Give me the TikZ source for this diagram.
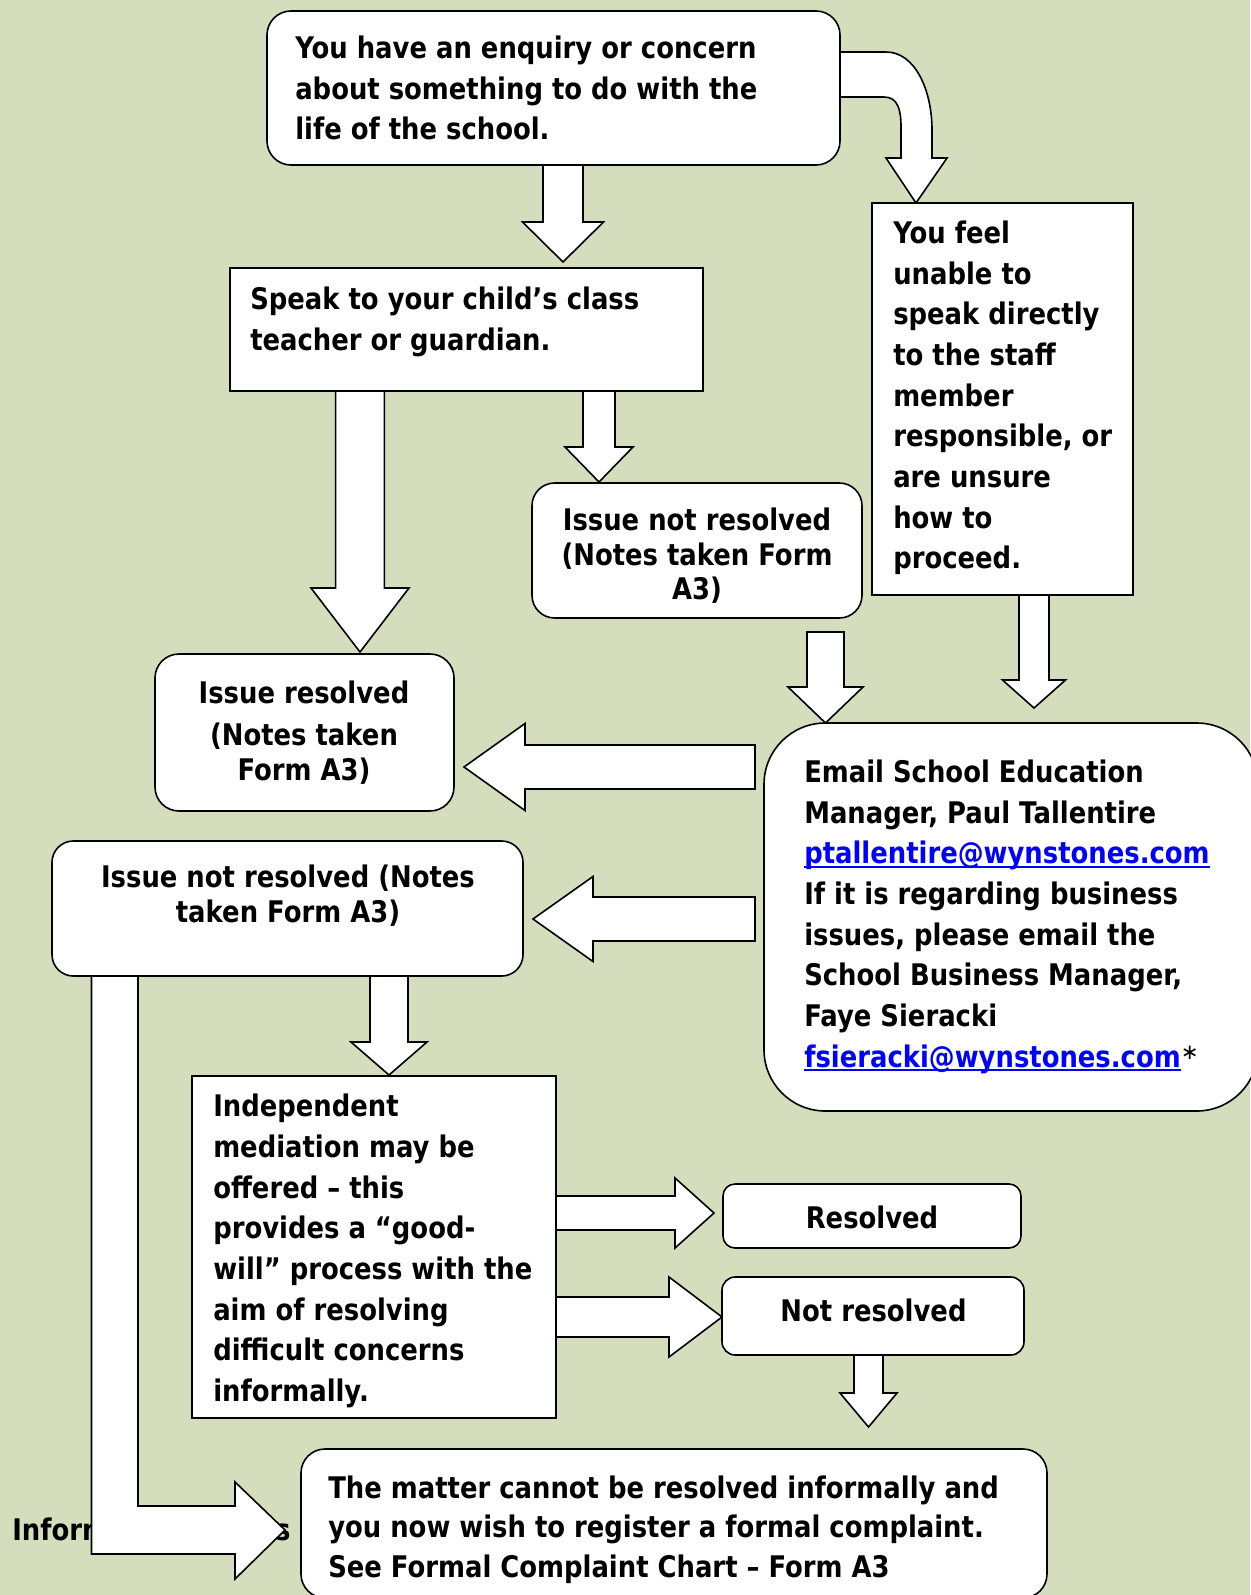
\documentclass[tikz,border=0pt]{standalone}
\usepackage{fontspec}
\newfontfamily\vf{DejaVu Sans}[FakeStretch=0.87]
\newfontfamily\vfr{DejaVu Sans}
\usetikzlibrary{fit}
\definecolor{bg}{RGB}{212,221,188}
\definecolor{lnk}{RGB}{0,0,255}
\newcommand\fA{\vf\bfseries\fontsize{22.3}{30.5}\selectfont}
\newcommand\fB{\vf\bfseries\fontsize{22.3}{26}\selectfont}
\newcommand\fC{\vf\bfseries\fontsize{22.3}{29.6}\selectfont}
\newcommand\lnkul[1]{{\color{lnk}\setbox0\hbox{#1}\rlap{\rule[-3pt]{\wd0}{1.5pt}}\box0}}
\newcommand\arrV[6]{\draw[blk] ({#1-#2},#4) -- ({#1-#2},#5) -- ({#1-#3},#5) -- (#1,#6) -- ({#1+#3},#5) -- ({#1+#2},#5) -- ({#1+#2},#4) -- cycle;}
\newcommand\arrH[6]{\draw[blk] (#4,{#1-#2}) -- (#5,{#1-#2}) -- (#5,{#1-#3}) -- (#6,#1) -- (#5,{#1+#3}) -- (#5,{#1+#2}) -- (#4,{#1+#2}) -- cycle;}
\begin{document}
\begin{tikzpicture}[x=0.75pt,y=-0.75pt,
  blk/.style={draw, fill=white, line width=1.2pt},
  box/.style={draw, fill=white, line width=1.2pt, inner sep=0pt},
  txt/.style={inner sep=0pt, anchor=north west, align=left, font=\fA, execute at begin node=\strut},
  ctxt/.style={txt, anchor=north, align=center}]
\useasboundingbox (0,0) rectangle (1250,1595);
\fill[bg] (0,0) rectangle (1250,1595);

% partly hidden label
\node[txt] (inf) at (12,1511.5) {Informal Processes};

% block arrows
\arrV{563}{20}{40.5}{165}{222}{262}
\draw[blk] (840,52) -- (886,52) .. controls (915,52) and (932,90) .. (932,130) -- (932,158) -- (947,158) -- (916,203) -- (886,158) -- (901,158) -- (901,127) .. controls (901,110) and (898,97) .. (884,97) -- (840,97) -- cycle;
\arrV{360}{24.4}{49}{391}{588}{652}
\arrV{599}{16}{34}{391}{447}{482}
\arrV{825.5}{18.5}{37.5}{632}{687}{723}
\arrV{1034}{15}{31.5}{595}{680}{708}
\arrH{767}{22}{43.5}{755}{525}{464}
\arrH{919}{22}{42.5}{755}{593}{533}
\arrV{389}{19}{38}{976}{1042}{1075}
\arrH{1213}{17}{35}{556}{675}{714}
\arrH{1317}{20}{40}{556}{669}{722}
\arrV{868.5}{14.5}{28.5}{1355}{1393}{1427}
\draw[blk] (91.5,976) -- (91.5,1554) -- (235,1554) -- (235,1579) -- (285,1530) -- (235,1482) -- (235,1506) -- (138,1506) -- (138,976) -- cycle;

% boxes
\node[box, rounded corners=18pt, fit={(267,11) (840,165)}] (top) {};
\node[box, fit={(230,268) (703,391)}] (speak) {};
\node[box, fit={(872,203) (1133,595)}] (feel) {};
\node[box, rounded corners=17pt, fit={(532,483) (862,618)}] (issT) {};
\node[box, rounded corners=18pt, fit={(155,654) (454,811)}] (issR) {};
\node[box, rounded corners=46pt, fit={(764,723) (1258,1111)}] (email) {};
\node[box, rounded corners=16pt, fit={(52,841) (523,976)}] (issL) {};
\node[box, fit={(192,1076) (556,1418)}] (indep) {};
\node[box, rounded corners=9pt, fit={(723,1184) (1021,1248)}] (res) {};
\node[box, rounded corners=10pt, fit={(722,1277) (1024,1355)}] (notres) {};
\node[box, rounded corners=18pt, fit={(301,1449) (1047,1598)}] (bot) {};

% texts
\node[txt] (ttop) at (295,35.5) {You have an enquiry or concern\\about something to do with the\\life of the school.};
\node[txt] (tfeel) at (893,220.5) {You feel\\unable to\\speak directly\\to the staff\\member\\responsible, or\\are unsure\\how to\\proceed.};
\node[txt] (tspeak) at (250,286.5) {Speak to your child’s class\\teacher or guardian.};
\node[ctxt, font=\fB] (tissT) at (697,507.8) {Issue not resolved\\(Notes taken Form\\A3)};
\node[ctxt, font=\fB] (tissR) at (304,680.4) {Issue resolved\\[6pt](Notes taken\\Form A3)};
\node[ctxt, font=\fB] (tissL) at (288,864.5) {Issue not resolved (Notes\\taken Form A3)};
\node[txt] (temail) at (804,759.5) {Email School Education\\Manager, Paul Tallentire\\\lnkul{ptallentire@wynstones.com}\\If it is regarding business\\issues, please email the\\School Business Manager,\\Faye Sieracki\\\lnkul{fsieracki@wynstones.com}{\vfr\mdseries\fontsize{16}{16}\selectfont\raisebox{6pt}{∗}}};
\node[txt] (tind) at (213,1094) {Independent\\mediation may be\\offered – this\\provides a “good-\\will” process with the\\aim of resolving\\difficult concerns\\informally.};
\node[ctxt] (tres) at (872,1200) {Resolved};
\node[ctxt] (tnot) at (873.5,1292.5) {Not resolved};
\node[txt, font=\fC] (tbot) at (328,1475.4) {The matter cannot be resolved informally and\\you now wish to register a formal complaint.\\See Formal Complaint Chart – Form A3};
\end{tikzpicture}
\end{document}
